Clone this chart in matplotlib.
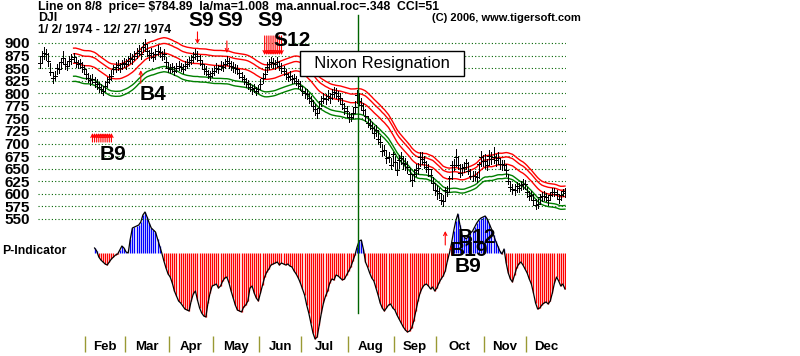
import numpy as np
import pandas as pd
import matplotlib
matplotlib.use("Agg")
import matplotlib.pyplot as plt
from matplotlib.patches import Rectangle

plt.rcParams['font.family'] = ['Liberation Sans', 'DejaVu Sans']

# DJI daily bars 1/2/1974 - 12/27/1974 (one row per month)
close = [860, 875, 880, 878, 865, 843, 830, 835, 850, 848, 862, 870, 858, 855, 865, 868, 872, 862, 858, 860, 852, 848,
         838, 830, 826, 828, 822, 818, 812, 808, 805, 815, 822, 828, 835, 848, 852, 856, 850, 858, 860,
         858, 865, 870, 868, 875, 880, 885, 878, 892, 898, 884, 876, 880, 872, 878, 885, 882, 875, 878, 862, 850,
         848, 852, 845, 850, 855, 852, 848, 855, 858, 862, 866, 872, 878, 875, 866, 858, 848, 845, 838, 835, 840,
         845, 850, 848, 855, 852, 858, 865, 860, 855, 852, 850, 848, 840, 832, 828, 822, 818, 812, 808, 810, 804, 808,
         818, 830, 838, 852, 858, 862, 860, 858, 862, 855, 850, 845, 838, 832, 835, 828, 830, 825, 820, 815,
         805, 800, 798, 790, 785, 775, 768, 760, 770, 785, 790, 788, 795, 790, 798, 802, 800, 795, 790, 778, 770, 765,
         752, 752, 760, 773, 797, 785, 777, 767, 755, 740, 737, 731, 721, 726, 710, 703, 686, 688, 671, 674, 657, 679,
         663, 648, 667, 672, 662, 660, 654, 639, 627, 640, 648, 651, 674, 670, 663, 654, 649, 637, 621, 608,
         605, 601, 587, 585, 608, 603, 631, 658, 658, 673, 658, 642, 651, 654, 662, 645, 636, 636, 636, 633, 659, 673, 665,
         665, 657, 675, 669, 674, 667, 672, 659, 659, 658, 647, 625, 614, 609, 608, 615, 611, 617, 619, 619,
         603, 596, 598, 588, 578, 580, 594, 595, 596, 593, 587, 598, 604, 604, 599, 590, 598, 605, 602]
high = [872, 885, 892, 888, 880, 860, 842, 845, 858, 860, 870, 884, 870, 864, 874, 878, 880, 872, 866, 868, 862, 856,
        848, 840, 836, 838, 832, 828, 822, 818, 815, 824, 832, 838, 846, 856, 862, 866, 860, 866, 870,
        868, 874, 880, 878, 885, 890, 896, 890, 902, 908, 896, 886, 890, 882, 888, 895, 892, 885, 888, 872, 860,
        858, 860, 854, 860, 864, 860, 858, 864, 868, 872, 876, 882, 888, 884, 876, 866, 858, 854, 846, 844, 850,
        854, 860, 856, 864, 862, 868, 875, 870, 864, 862, 858, 856, 848, 842, 836, 830, 826, 820, 816, 818, 812, 816,
        828, 840, 848, 862, 868, 872, 870, 866, 872, 864, 860, 854, 848, 840, 844, 836, 838, 834, 828, 824,
        814, 810, 808, 800, 794, 786, 778, 770, 782, 795, 800, 798, 806, 800, 808, 812, 810, 805, 800, 790, 780, 775,
        762, 760, 770, 784, 806, 800, 790, 780, 768, 754, 748, 742, 734, 736, 724, 716, 700, 698, 686, 684, 672, 684,
        676, 664, 678, 684, 676, 672, 666, 652, 640, 650, 660, 662, 684, 684, 676, 666, 660, 650, 634, 622,
        618, 612, 600, 598, 614, 616, 636, 666, 670, 690, 676, 660, 660, 664, 670, 664, 650, 646, 646, 644, 664, 686, 678,
        680, 670, 688, 684, 694, 680, 684, 672, 668, 668, 660, 640, 626, 620, 620, 624, 622, 626, 630, 628,
        614, 606, 606, 600, 590, 590, 600, 604, 606, 602, 596, 604, 612, 612, 608, 600, 604, 610, 612]
low = [850, 862, 868, 866, 855, 836, 820, 826, 838, 840, 850, 860, 848, 846, 855, 858, 862, 852, 850, 850, 843, 838,
       828, 822, 816, 820, 812, 808, 802, 800, 797, 806, 812, 820, 826, 838, 842, 846, 842, 848, 852,
       848, 856, 860, 858, 866, 870, 876, 868, 882, 886, 874, 866, 870, 864, 868, 876, 872, 866, 868, 852, 842,
       840, 842, 836, 842, 846, 844, 840, 846, 850, 854, 858, 862, 868, 864, 856, 848, 838, 836, 830, 826, 832,
       836, 842, 840, 846, 844, 850, 856, 850, 846, 842, 840, 838, 830, 824, 818, 812, 808, 804, 798, 802, 796, 800,
       808, 820, 830, 842, 848, 852, 850, 848, 852, 846, 840, 836, 828, 824, 826, 820, 820, 816, 810, 806,
       796, 790, 788, 780, 774, 764, 756, 750, 760, 774, 780, 778, 786, 780, 788, 792, 790, 785, 780, 768, 758, 754,
       742, 744, 750, 760, 780, 776, 768, 758, 744, 732, 728, 722, 712, 716, 700, 694, 676, 678, 662, 664, 650, 656,
       650, 638, 652, 660, 650, 648, 642, 626, 616, 626, 636, 640, 656, 660, 652, 644, 636, 624, 610, 598,
       590, 592, 580, 575, 586, 596, 604, 630, 648, 656, 650, 634, 638, 644, 650, 640, 630, 626, 628, 624, 632, 656, 656,
       652, 648, 660, 660, 662, 656, 660, 650, 648, 648, 636, 620, 606, 600, 598, 604, 604, 608, 610, 610,
       594, 588, 588, 578, 570, 572, 580, 586, 588, 586, 578, 588, 596, 596, 590, 582, 588, 596, 594]

# P-Indicator, first value is trading day 26
p_start = 26
p_ind = [5, 2, -4, -7, -9, -11, -12, -9, -6, -4,
         -2, -1, 3, 7, 5, 1, 0, 14, 25, 26,
         27, 28, 31, 38, 41, 36, 30, 25, 23, 21,
         14, 7, 0, -8, -15, -21, -24, -30, -38, -43,
         -48, -50, -53, -56, -57, -58, -48, -41, -38, -47,
         -55, -60, -63, -64, -50, -40, -33, -32, -31, -35,
         -33, -28, -25, -24, -30, -38, -45, -52, -57, -58,
         -59, -54, -52, -48, -35, -33, -40, -45, -48, -40,
         -32, -24, -19, -16, -12, -11, -10, -9, -12, -10,
         -11, -12, -11, -13, -14, -18, -21, -25, -30, -36,
         -42, -52, -60, -70, -80, -86, -84, -72, -60, -50,
         -43, -38, -30, -26, -27, -22, -23, -25, -27, -26,
         -22, -18, -14, -8, -2, 6, 12, 13, 4, -9,
         -14, -20, -25, -28, -35, -42, -50, -55, -58, -55,
         -52, -51, -55, -57, -62, -66, -70, -74, -77, -79,
         -78, -75, -68, -58, -48, -40, -35, -32, -31, -33,
         -36, -34, -38, -35, -30, -26, -23, -18, -8, 0,
         10, 22, 32, 39, 28, 18, 16, 14, 17, 20,
         22, 26, 30, 33, 35, 36, 37, 34, 29, 24,
         18, 12, 7, 2, -1, 4, -10, -20, -26, -29,
         -22, -15, -11, -9, -12, -16, -20, -26, -31, -40,
         -50, -56, -55, -52, -50, -49, -51, -48, -40, -30,
         -24, -28, -33, -31, -36]

months = ["Feb", "Mar", "Apr", "May", "Jun", "Jul", "Aug", "Sep", "Oct", "Nov", "Dec"]
month_start = [22, 41, 62, 83, 105, 125, 147, 169, 189, 212, 232]
price_levels = list(range(550, 901, 25))
nixon_day = 151.5

W, H = 800, 356
PX = 72 / 100  # one pixel in points
fig = plt.figure(figsize=(W / 100, H / 100), dpi=100)
fig.patch.set_facecolor("white")

ax = fig.add_axes([38 / W, 1 - 230 / H, 528 / W, 200 / H])
axp = fig.add_axes([38 / W, 0, 528 / W, 161 / H])
for a in (ax, axp):
    a.set_xlim(-0.95, 250.5)
    a.patch.set_visible(False)
    for s in a.spines.values():
        s.set_visible(False)
    a.set_xticks([])
ax.set_zorder(2)
ax.set_ylim(528.1, 925.8)
axp.set_ylim(-103, 58)
axp.set_yticks([])

# price panel
days = np.arange(len(close))
ax.set_yticks(price_levels)
ax.set_yticklabels([str(v) for v in price_levels], fontweight="bold", fontsize=11)
ax.tick_params(axis="y", length=0, pad=6)
ax.grid(axis="y", color="#006400", linestyle=(0, (1, 2)), linewidth=0.8)

ma = pd.Series(close).rolling(17).mean()
for k, c in [(1.035, "#ff0000"), (1.022, "#ff0000"), (1.0, "#ff0000"), (0.97, "#008000"), (0.958, "#008000")]:
    ax.plot(days, ma * k, color=c, lw=1)

ax.vlines(days, low, high, color="black", lw=PX, antialiased=False)
ax.hlines(close, days - 0.9, days + 0.9, color="black", lw=PX, antialiased=False)

ax.plot([nixon_day, nixon_day], [363, 956], color="#006400", lw=1, clip_on=False, zorder=3)
ax.text(162.9, 859, "  Nixon Resignation  ", ha="center", va="center", fontsize=12, zorder=5,
        bbox=dict(boxstyle="square,pad=0.3", fc="white", ec="black", lw=1))

arrow = dict(arrowstyle="->", color="#ff0000", lw=0.8, shrinkA=0, shrinkB=0, mutation_scale=6)
for d, top, head in [(75, 922, 898), (89, 904, 880)]:
    ax.annotate("", xy=(d, head), xytext=(d, top), arrowprops=arrow, annotation_clip=False)
for d in range(107, 116):
    ax.annotate("", xy=(d, 876), xytext=(d, 914), arrowprops=arrow, annotation_clip=False)
ax.annotate("", xy=(48, 846), xytext=(48, 820), arrowprops=arrow)
for d in range(25, 35):
    ax.annotate("", xy=(d, 721), xytext=(d, 703), arrowprops=arrow)

big = dict(fontsize=15, fontweight="bold", clip_on=False)
for d in [77, 90.5, 109.5]:
    ax.text(d, 934, "S9", ha="center", va="baseline", **big)
ax.text(111, 894, "S12", ha="left", va="baseline", **big)
ax.text(47.6, 787, "B4", ha="left", va="baseline", **big)
ax.text(28.6, 667, "B9", ha="left", va="baseline", **big)

# P-Indicator panel
pdays = np.arange(p_start, p_start + len(p_ind))
p = np.array(p_ind)
axp.vlines(pdays, 0, p, colors=np.where(p >= 0, "#0000ff", "#ff0000"), lw=PX * 1.3)
axp.plot(pdays, p, color="black", lw=0.9)

axp.annotate("", xy=(193, 22), xytext=(193, 8), arrowprops=arrow)
axp.annotate("", xy=(196, 8), xytext=(196, -2), arrowprops=arrow)
axp.text(199, 10, "B12", ha="left", va="baseline", **big)
axp.text(195, -3, "B19", ha="left", va="baseline", **big)
axp.text(197.6, -19, "B9", ha="left", va="baseline", **big)

bounds = month_start + [len(close)]
for m, a, b in zip(months, bounds[:-1], bounds[1:]):
    axp.text((a + b) / 2 - 0.5, -94, m, ha="center", va="center", fontweight="bold", fontsize=9.5)
axp.vlines(np.array(month_start) - 0.5, -99, -83, color="#999933", lw=1)

# header
fig.add_artist(Rectangle((0, 1 - 12 / H), 1, 12 / H, transform=fig.transFigure,
                         fc="white", ec="none", zorder=3))
hdr = dict(fontsize=8.8, fontweight="bold", va="center", zorder=4)
fig.text(38 / W, 1 - 7 / H, "Line on 8/8  price= $784.89  la/ma=1.008  ma.annual.roc=.348  CCI=51", **hdr)
fig.text(38 / W, 1 - 18 / H, "DJI", **hdr)
fig.text(38 / W, 1 - 30 / H, "1/ 2/ 1974 - 12/ 27/ 1974", **hdr)
fig.text(432 / W, 1 - 18 / H, "(C) 2006, www.tigersoft.com", fontsize=8, fontweight="bold",
         va="center", zorder=4)
fig.text(2 / W, 1 - 251 / H, "P-Indicator", **hdr)

fig.savefig("out.png", dpi=100, facecolor="white")
